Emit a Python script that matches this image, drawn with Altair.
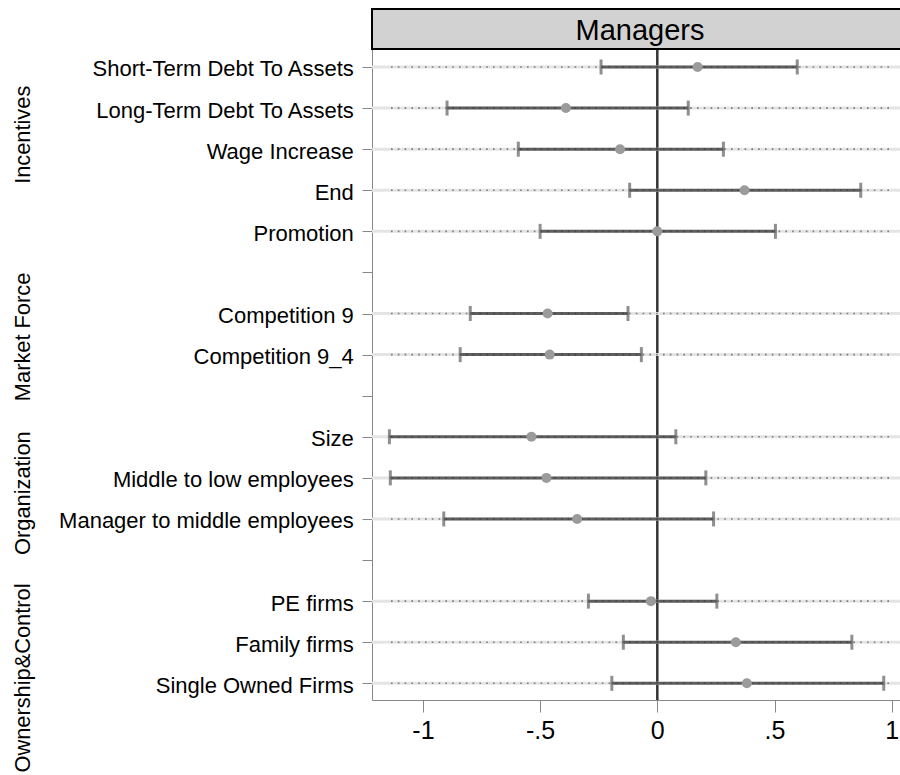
import json

import altair as alt
import pandas as pd

# ---- data -------------------------------------------------------------
panel_title = "Managers"

groups = ["Incentives", "Market Force", "Organization", "Ownership&Control"]

variables = [
    "Short-Term Debt To Assets",
    "Long-Term Debt To Assets",
    "Wage Increase",
    "End",
    "Promotion",
    "Competition 9",
    "Competition 9_4",
    "Size",
    "Middle to low employees",
    "Manager to middle employees",
    "PE firms",
    "Family firms",
    "Single Owned Firms",
]

var_group = (
    ["Incentives"] * 5
    + ["Market Force"] * 2
    + ["Organization"] * 3
    + ["Ownership&Control"] * 3
)

coef = [0.172, -0.390, -0.159, 0.372, 0.000,
        -0.468, -0.459,
        -0.537, -0.473, -0.342,
        -0.027, 0.335, 0.382]

ci_low = [-0.240, -0.897, -0.593, -0.118, -0.500,
          -0.798, -0.841,
          -1.143, -1.139, -0.911,
          -0.294, -0.145, -0.194]

ci_high = [0.597, 0.132, 0.282, 0.868, 0.504,
           -0.125, -0.068,
           0.079, 0.207, 0.240,
           0.254, 0.830, 0.966]

x_ticks = [-1, -0.5, 0, 0.5, 1]
x_tick_labels = ["-1", "-.5", "0", ".5", "1"]

# ---- layout -----------------------------------------------------------
W, H = 528, 651
LEFT, TOP = 372, 49
FONT = "Liberation Sans"
X_DOMAIN = [-1.2172, 1.0354]
# vertical anchor (in row units) of each rotated group caption
group_label_row = {"Incentives": 1.65, "Market Force": 6.57,
                   "Organization": 10.37, "Ownership&Control": 14.87}

# one row per coefficient, an empty row between consecutive groups
rows, pos, prev = [], 0, None
for g in var_group:
    if prev is not None and g != prev:
        pos += 1
    rows.append(pos)
    pos += 1
    prev = g
n_rows = rows[-1] + 1

row_labels = [""] * n_rows
for r, v in zip(rows, variables):
    row_labels[r] = v

df = pd.DataFrame({
    "variable": variables,
    "group": var_group,
    "row": rows,
    "coef": coef,
    "lo": ci_low,
    "hi": ci_high,
})
group_df = pd.DataFrame({"group": groups,
                         "gpos": [group_label_row[g] for g in groups]})
zero_df = pd.DataFrame({"x": [0]})
title_df = pd.DataFrame({"t": [panel_title]})

xscale = alt.Scale(domain=X_DOMAIN, nice=False, zero=False)
yscale = alt.Scale(domain=[-0.438, n_rows - 1 + 0.406], reverse=True,
                   nice=False, zero=False)

x_axis = alt.Axis(
    values=x_ticks,
    labelExpr=f"{json.dumps(x_tick_labels)}[indexof({json.dumps(x_ticks)}, datum.value)]",
    title=None, grid=False, tickSize=12, labelPadding=6.7,
    labelFontSize=25, labelFlush=False, labelOverlap=False,
)
y_axis = alt.Axis(
    values=list(range(n_rows)),
    labelExpr=f"{json.dumps(row_labels)}[datum.value]",
    title=None, grid=False, tickSize=10, labelPadding=8.7, labelOffset=2,
    labelFontSize=22, labelLimit=500, labelFlush=False, labelOverlap=False,
)

# vertical reference line at zero
zero = alt.Chart(zero_df).mark_rule(color="#333333", strokeWidth=2.5).encode(
    x=alt.X("x:Q", scale=xscale, axis=x_axis)
)

base = alt.Chart(df)

# light row band behind each coefficient
band = base.mark_rule(color="#e4e4e4", strokeWidth=3).encode(
    x=alt.value(0), x2=alt.value(W),
    y=alt.Y("row:Q", scale=yscale, axis=y_axis),
)

# confidence interval
ci = base.mark_rule(color="#5f5f5f", strokeWidth=3).encode(
    x=alt.X("lo:Q", scale=xscale), x2="hi:Q", y="row:Q"
)

# dotted guide along each row
dots = base.mark_rule(color="#333333", opacity=0.6, strokeWidth=1.6,
                      strokeDash=[1.6, 5.2]).encode(
    x=alt.value(19), x2=alt.value(521), y="row:Q"
)

# end caps of the interval
caps = base.transform_fold(["lo", "hi"], as_=["end", "val"]).mark_tick(
    orient="vertical", color="#5f5f5f", thickness=3, size=15
).encode(x=alt.X("val:Q", scale=xscale), y="row:Q")

# point estimates
points = base.mark_circle(color="#9b9b9b", opacity=1, size=100).encode(
    x=alt.X("coef:Q", scale=xscale), y="row:Q"
)

# rotated group captions on the far left
group_text = alt.Chart(group_df).mark_text(
    angle=270, fontSize=21.8, font=FONT, color="black",
    align="center", baseline="middle",
).encode(
    x=alt.value(22.8 - LEFT),
    y=alt.Y("gpos:Q", scale=yscale),
    text="group:N",
)

# panel header strip
header_box = alt.Chart(title_df).mark_rect(
    fill="#d2d2d2", stroke="black", strokeWidth=2
).encode(
    x=alt.value(0), x2=alt.value(W + 20),
    y=alt.value(-40), y2=alt.value(0),
)
header_text = alt.Chart(title_df).mark_text(
    fontSize=29, font=FONT, color="black", align="center", baseline="alphabetic"
).encode(x=alt.value(268), y=alt.value(-9.4), text="t:N")

chart = alt.layer(
    zero, band, ci, dots, caps, points, group_text, header_box, header_text
).properties(
    width=W, height=H,
    padding={"left": LEFT, "top": TOP, "right": 0, "bottom": 775 - TOP - H},
    autosize=alt.AutoSizeParams(type="none"),
).configure_view(
    stroke=None
).configure_axis(
    domainColor="black", domainWidth=2, tickColor="black", tickWidth=2,
    labelColor="black", labelFont=FONT,
).configure(background="white")

chart.save("out.html", embed_options={"renderer": "svg", "actions": False})
